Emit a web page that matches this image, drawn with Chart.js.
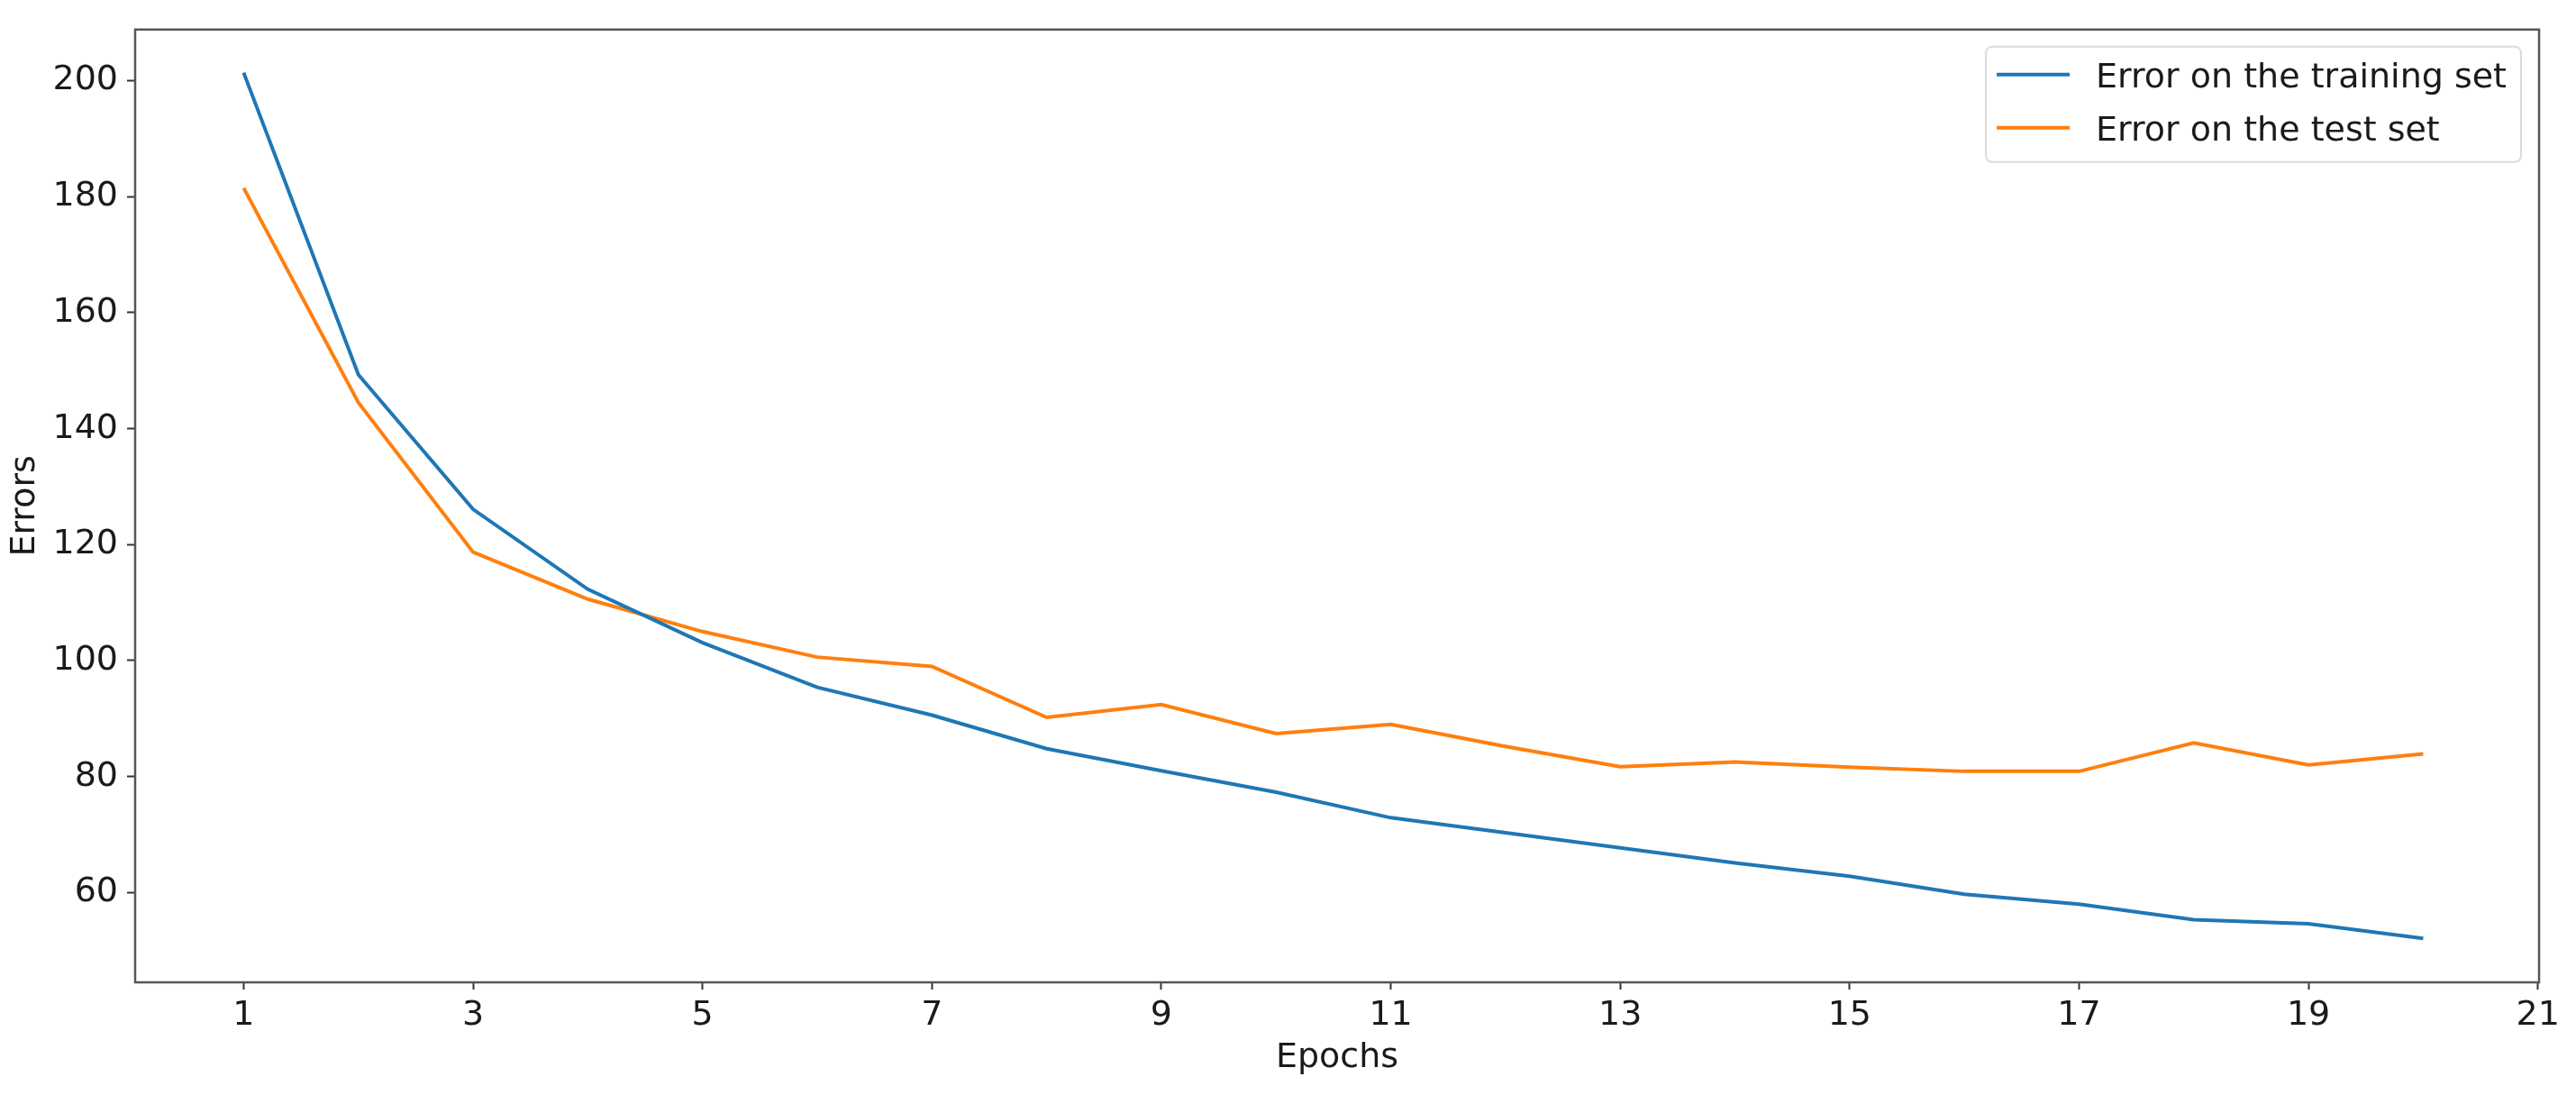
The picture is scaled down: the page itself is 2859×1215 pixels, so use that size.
<!DOCTYPE html>
<html>
<head>
<meta charset="utf-8">
<script src="https://cdn.jsdelivr.net/npm/chart.js@4.4.1/dist/chart.umd.min.js"></script>
<style>
html,body{margin:0;padding:0;background:#ffffff;}
#wrap{width:2859px;height:1215px;position:relative;}
</style>
</head>
<body>
<div id="wrap"><canvas id="c"></canvas></div>
<script>
// ---- data ----
const epochs = [1,2,3,4,5,6,7,8,9,10,11,12,13,14,15,16,17,18,19,20];
const trainErrors = [201.4,149.3,126.1,112.3,103.1,95.4,90.6,84.8,81.0,77.3,72.9,70.3,67.7,65.1,62.8,59.7,58.0,55.3,54.6,52.1];
const testErrors  = [181.5,144.5,118.7,110.6,105.0,100.6,99.0,90.2,92.4,87.4,89.0,85.2,81.7,82.5,81.6,80.9,80.9,85.8,82.0,83.9];
const xTickValues = [1,3,5,7,9,11,13,15,17,19,21];
const yTickValues = [60,80,100,120,140,160,180,200];
const seriesLabels = ['Error on the training set','Error on the test set'];
const seriesColors = ['#1f77b4','#ff7f0e'];
const xTitle = 'Epochs';
const yTitle = 'Errors';

const FONT = '"DejaVu Sans", sans-serif';
const FS = 38;

const toPoints = (vals) => epochs.map((e,i) => ({x:e, y:vals[i]}));

const framePlugin = {
  id: 'frame',
  afterDraw(chart){
    const {ctx, chartArea:a} = chart;
    ctx.save();
    ctx.strokeStyle = '#555555';
    ctx.lineWidth = 2.5;
    ctx.strokeRect(a.left, a.top, a.right - a.left, a.bottom - a.top);
    ctx.restore();
  }
};

const insideLegend = {
  id: 'insideLegend',
  afterDraw(chart){
    const {ctx, chartArea:a} = chart;
    const ds = chart.data.datasets;
    ctx.save();
    ctx.font = FS + 'px ' + FONT;
    let maxW = 0;
    ds.forEach(d => { maxW = Math.max(maxW, ctx.measureText(d.label).width); });
    const boxW = 122 + maxW + 16;
    const boxH = 128;
    const bx = a.right - 20 - boxW;
    const by = a.top + 19;
    ctx.beginPath();
    if (ctx.roundRect) ctx.roundRect(bx, by, boxW, boxH, 7); else ctx.rect(bx, by, boxW, boxH);
    ctx.fillStyle = 'rgba(255,255,255,0.85)';
    ctx.fill();
    ctx.strokeStyle = '#dcdcdc';
    ctx.lineWidth = 2;
    ctx.stroke();
    ds.forEach((d, i) => {
      const ry = by + 31 + i * 59;
      ctx.beginPath();
      ctx.strokeStyle = d.borderColor;
      ctx.lineWidth = 4;
      ctx.moveTo(bx + 12, ry);
      ctx.lineTo(bx + 93, ry);
      ctx.stroke();
      ctx.fillStyle = '#1a1a1a';
      ctx.textBaseline = 'alphabetic';
      ctx.textAlign = 'left';
      ctx.fillText(d.label, bx + 122, ry + 14);
    });
    ctx.restore();
  }
};

new Chart(document.getElementById('c'), {
  type: 'line',
  data: {
    datasets: [
      {label: seriesLabels[0], data: toPoints(trainErrors), borderColor: seriesColors[0], backgroundColor: seriesColors[0], borderWidth: 4, pointRadius: 0, tension: 0, fill: false},
      {label: seriesLabels[1], data: toPoints(testErrors), borderColor: seriesColors[1], backgroundColor: seriesColors[1], borderWidth: 4, pointRadius: 0, tension: 0, fill: false}
    ]
  },
  options: {
    responsive: true,
    maintainAspectRatio: false,
    animation: false,
    devicePixelRatio: 1,
    layout: {padding: {top: 29, right: 41, left: 0, bottom: 0}},
    plugins: {legend: {display: false}, tooltip: {enabled: false}},
    scales: {
      x: {
        type: 'linear',
        min: 0.054,
        max: 21.01,
        afterBuildTicks(s){ s.ticks = xTickValues.map(v => ({value: v})); },
        afterFit(s){ s.height = 125; },
        grid: {display: true, drawOnChartArea: false, drawTicks: true, tickLength: 8, tickWidth: 2, tickColor: '#333333'},
        border: {display: false},
        ticks: {autoSkip: false, maxRotation: 0, minRotation: 0, padding: 6, color: '#1a1a1a', font: {family: FONT, size: FS}},
        title: {display: true, text: xTitle, color: '#1a1a1a', font: {family: FONT, size: FS}, padding: {top: 0, bottom: 18}}
      },
      y: {
        type: 'linear',
        min: 44.51,
        max: 208.83,
        afterBuildTicks(s){ s.ticks = yTickValues.map(v => ({value: v})); },
        afterFit(s){ s.width = 150; },
        grid: {display: true, drawOnChartArea: false, drawTicks: true, tickLength: 9, tickWidth: 2, tickColor: '#333333'},
        border: {display: false},
        ticks: {padding: 10, color: '#1a1a1a', font: {family: FONT, size: FS}},
        title: {display: true, text: yTitle, color: '#1a1a1a', font: {family: FONT, size: FS}, padding: {top: 5, bottom: 0}}
      }
    }
  },
  plugins: [framePlugin, insideLegend]
});
</script>
</body>
</html>
